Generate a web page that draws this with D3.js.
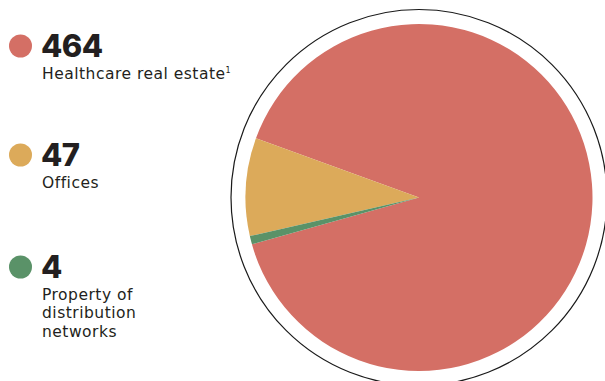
<!DOCTYPE html>
<html>
<head>
<meta charset="utf-8">
<script src="https://cdn.jsdelivr.net/npm/d3@7/dist/d3.min.js"></script>
<style>
  html, body { margin: 0; padding: 0; background: #fff; }
  svg { display: block; }
  text { fill: #231f20; }
  .num { font-family: Inter, "Noto Sans", sans-serif; }
  .lbl { font-family: "DejaVu Sans", "Open Sans", sans-serif; }
</style>
</head>
<body>
<svg id="chart" width="605" height="381"></svg>
<script>
// Portfolio breakdown by asset type
const categories = ["Healthcare real estate", "Offices", "Property of distribution networks"];
const values = [464, 47, 4];
const colors = ["#d46f65", "#dcaa5a", "#5a9268"];
// legend labels, split into lines; footnote marker kept separate
const labelLines = [["Healthcare real estate"], ["Offices"], ["Property of", "distribution", "networks"]];
const footnotes = ["1", "", ""];

const svg = d3.select("#chart");

const cx = 419, cy = 197.5, r = 173.5, ringR = 188;

const startA = 254.35 * Math.PI / 180;
const pie = d3.pie().sort(null).value(d => d)
  .startAngle(startA).endAngle(startA - 2 * Math.PI);
const arc = d3.arc().innerRadius(0).outerRadius(r);

const g = svg.append("g").attr("transform", `translate(${cx},${cy})`);

g.append("circle")
  .attr("r", ringR)
  .attr("fill", "none")
  .attr("stroke", "#1a1a1a")
  .attr("stroke-width", 1.2);

g.selectAll("path.slice")
  .data(pie(values))
  .join("path")
  .attr("class", "slice")
  .attr("d", arc)
  .attr("fill", (d, i) => colors[i]);

// Legend
const legendY = [46, 155, 267];
const legend = svg.selectAll("g.item")
  .data(categories)
  .join("g")
  .attr("class", "item")
  .attr("transform", (d, i) => `translate(0,${legendY[i]})`);

legend.append("circle")
  .attr("cx", 20.5)
  .attr("cy", 0)
  .attr("r", 11.5)
  .attr("fill", (d, i) => colors[i]);

legend.append("text")
  .attr("class", "num")
  .attr("x", 41)
  .attr("y", 11)
  .attr("font-size", 31)
  .attr("font-weight", 800)
  .attr("letter-spacing", -0.5)
  .text((d, i) => d3.format("d")(values[i]));

legend.each(function (d, i) {
  const t = d3.select(this).append("text")
    .attr("class", "lbl")
    .attr("x", 42)
    .attr("y", 32.5)
    .attr("font-size", 15.5)
    .attr("letter-spacing", 0.5);
  labelLines[i].forEach((line, j) => {
    t.append("tspan")
      .attr("x", 42)
      .attr("dy", j === 0 ? 0 : 18.5)
      .text(line);
  });
  if (footnotes[i]) {
    t.append("tspan")
      .attr("dy", -6)
      .attr("font-size", 8)
      .attr("letter-spacing", 0)
      .text(footnotes[i]);
  }
});
</script>
</body>
</html>
